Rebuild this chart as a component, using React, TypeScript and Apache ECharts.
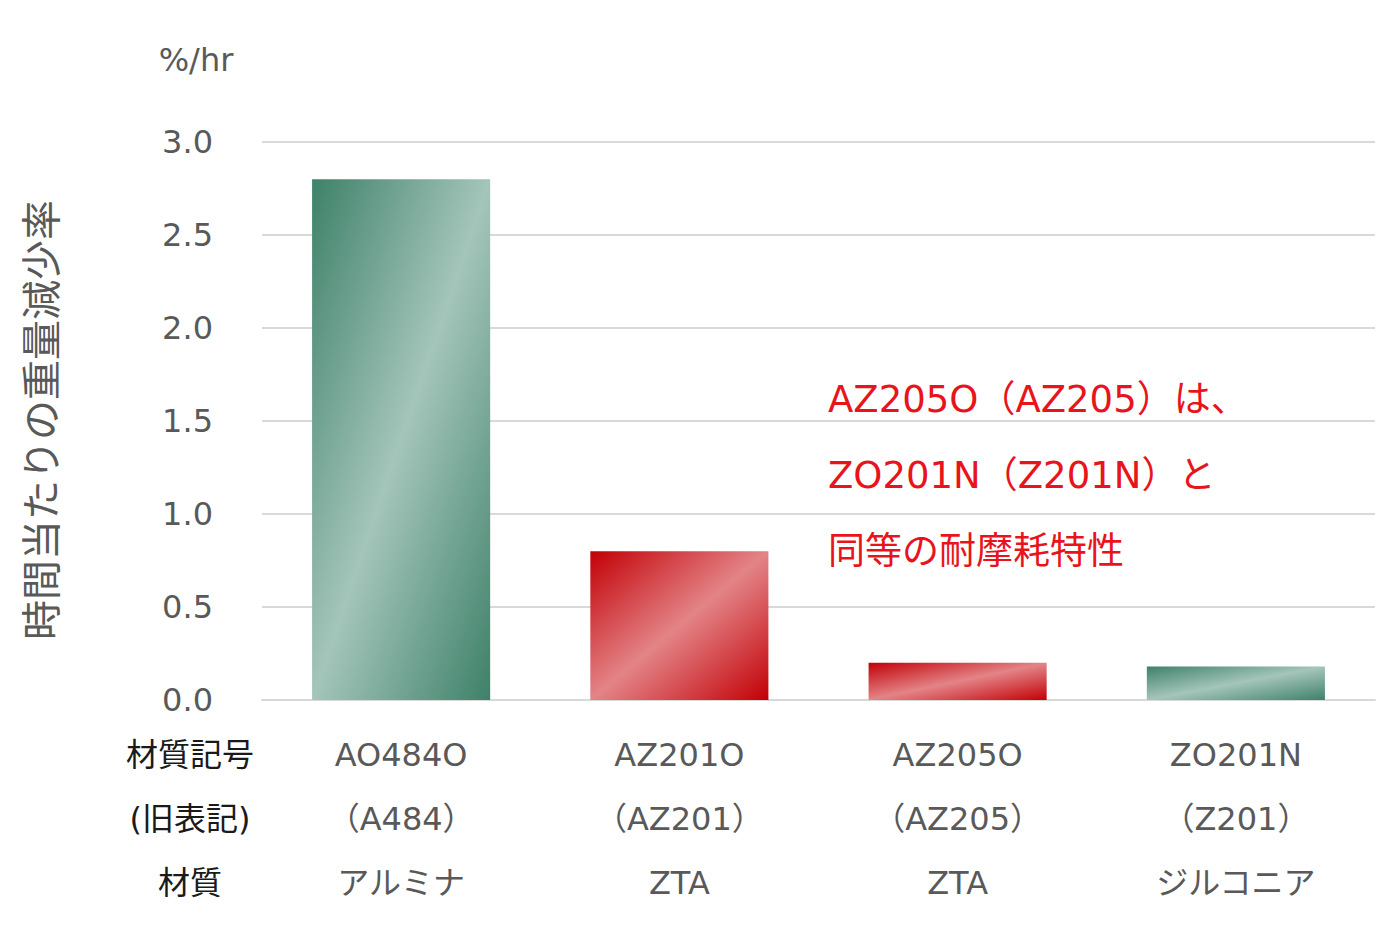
import React, { useEffect, useRef } from 'react'
import * as echarts from 'echarts'

const codes = ['AO484O', 'AZ201O', 'AZ205O', 'ZO201N']
const oldCodes = ['（A484）', '（AZ201）', '（AZ205）', '（Z201）']
const materials = ['アルミナ', 'ZTA', 'ZTA', 'ジルコニア']
const rates = [2.8, 0.8, 0.2, 0.18]
const rowHeaders = ['材質記号', '(旧表記)', '材質']
const noteLines = ['AZ205O（AZ205）は、', 'ZO201N（Z201N）と', '同等の耐摩耗特性']
const yTitle = '時間当たりの重量減少率'
const yUnit = '%/hr'

const FONT = '"DejaVu Sans", "Noto Sans CJK JP", sans-serif'

const green = () =>
  new echarts.graphic.LinearGradient(0, 0, 1, 1, [
    { offset: 0, color: '#3e8169' },
    { offset: 0.5, color: '#a4c5ba' },
    { offset: 1, color: '#3e8169' },
  ])

const red = () =>
  new echarts.graphic.LinearGradient(0, 0, 1, 1, [
    { offset: 0, color: '#c20006' },
    { offset: 0.5, color: '#e38487' },
    { offset: 1, color: '#c20006' },
  ])

const palette = [green, red, red, green]

const App = () => {
  const chartRef = useRef<HTMLDivElement | null>(null)

  useEffect(() => {
    if (!chartRef.current) return
    const chart = echarts.init(chartRef.current, undefined, { renderer: 'svg' })

    const labels = codes.map((c, i) => `${c}\n${oldCodes[i]}\n${materials[i]}`)

    chart.setOption({
      animation: false,
      backgroundColor: '#ffffff',
      textStyle: { fontFamily: FONT },
      grid: { left: 262, right: 25, top: 142, bottom: 250 },
      xAxis: {
        type: 'category',
        data: labels,
        axisLine: { show: true, lineStyle: { color: '#d9d9d9', width: 2 } },
        axisTick: { show: false },
        axisLabel: {
          color: '#595959',
          fontSize: 32,
          lineHeight: 64,
          margin: 23,
          fontFamily: FONT,
        },
      },
      yAxis: {
        type: 'value',
        min: 0,
        max: 3,
        interval: 0.5,
        axisLine: { show: false },
        axisTick: { show: false },
        axisLabel: {
          color: '#595959',
          fontSize: 32,
          margin: 49,
          fontFamily: FONT,
          formatter: (v: number) => v.toFixed(1),
        },
        splitLine: { lineStyle: { color: '#d9d9d9', width: 2 } },
      },
      series: [
        {
          type: 'bar',
          barWidth: '64%',
          data: rates.map((v, i) => ({ value: v, itemStyle: { color: palette[i]() } })),
        },
      ],
      graphic: [
        {
          type: 'text',
          x: 196,
          y: 60,
          style: {
            text: yUnit,
            fill: '#595959',
            font: `32px ${FONT}`,
            textAlign: 'center',
            textVerticalAlign: 'middle',
          },
        },
        {
          type: 'text',
          x: 42,
          y: 420,
          rotation: Math.PI / 2,
          style: {
            text: yTitle,
            fill: '#595959',
            font: `40px ${FONT}`,
            textAlign: 'center',
            textVerticalAlign: 'middle',
          },
        },
        ...rowHeaders.map((t, i) => ({
          type: 'text',
          x: 190,
          y: 755 + i * 64,
          style: {
            text: t,
            fill: '#1a1a1a',
            font: `32px ${FONT}`,
            textAlign: 'center',
            textVerticalAlign: 'middle',
          },
        })),
        ...noteLines.map((t, i) => ({
          type: 'text',
          x: 828,
          y: 399 + i * 76,
          style: {
            text: t,
            fill: '#e8141c',
            font: `37px ${FONT}`,
            textAlign: 'left',
            textVerticalAlign: 'middle',
          },
        })),
      ],
    })

    return () => chart.dispose()
  }, [])

  return (
    <div
      ref={chartRef}
      style={{ position: 'fixed', left: 0, top: 0, width: 1400, height: 950 }}
    />
  )
}

export default App
